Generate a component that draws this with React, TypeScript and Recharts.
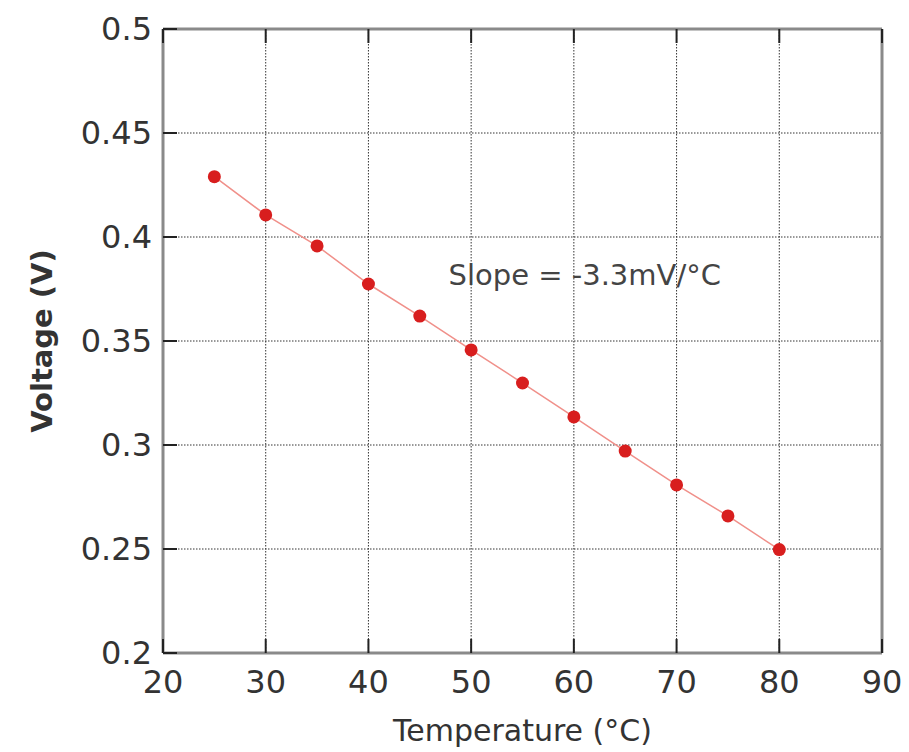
import React from "react";
import {
  LineChart,
  Line,
  XAxis,
  YAxis,
  CartesianGrid,
  ReferenceDot,
  Label
} from "recharts";

// temperature (°C) vs diode forward voltage (V)
const temperatures = [25, 30, 35, 40, 45, 50, 55, 60, 65, 70, 75, 80];
const voltages = [0.429, 0.4106, 0.3957, 0.3774, 0.362, 0.3457, 0.3298, 0.3135, 0.2971, 0.2808, 0.2659, 0.2497];

const xTicks = [20, 30, 40, 50, 60, 70, 80, 90];
const yTicks = [0.2, 0.25, 0.3, 0.35, 0.4, 0.45, 0.5];

const slopeNote = { x: 47.8, y: 0.3817, text: "Slope = -3.3mV/°C" };

const data = temperatures.map((t, i) => ({ temp: t, volt: voltages[i] }));

const FONT = "'DejaVu Sans', Verdana, sans-serif";
const frame = { stroke: "#8a8a8a", strokeWidth: 3 };
const TICK_LEN = 14;
const TICK_COLOR = "#222";

// ticks point into the plot, labels stay outside
const LeftTick = (props: any) => {
  const { x, y, payload } = props;
  const axisX = x + 11;
  return (
    <g>
      <path d={`M${axisX},${y}h${TICK_LEN}`} stroke={TICK_COLOR} strokeWidth={2} fill="none" />
      <text x={x} y={y} dy={11} textAnchor="end" fill="#333" fontSize={32} fontFamily={FONT}>
        {String(payload.value)}
      </text>
    </g>
  );
};

const BottomTick = (props: any) => {
  const { x, y, payload } = props;
  const axisY = y - 12;
  return (
    <g>
      <path d={`M${x},${axisY}v${-TICK_LEN}`} stroke={TICK_COLOR} strokeWidth={2} fill="none" />
      <text x={x} y={y} dy={28} textAnchor="middle" fill="#333" fontSize={32} fontFamily={FONT}>
        {String(payload.value)}
      </text>
    </g>
  );
};

const TopTick = (props: any) => {
  const { x, y } = props;
  return <path d={`M${x},${y}v${TICK_LEN}`} stroke={TICK_COLOR} strokeWidth={2} fill="none" />;
};

const RightTick = (props: any) => {
  const { x, y } = props;
  return <path d={`M${x},${y}h${-TICK_LEN}`} stroke={TICK_COLOR} strokeWidth={2} fill="none" />;
};

const YLabel = (props: any) => {
  const { viewBox } = props;
  const cy = viewBox.y + viewBox.height / 2;
  const x = 52;
  return (
    <text
      x={x}
      y={cy}
      transform={`rotate(-90, ${x}, ${cy})`}
      textAnchor="middle"
      fontFamily={FONT}
      fontWeight="bold"
      fontSize={29}
      fill="#333"
    >
      Voltage (V)
    </text>
  );
};

export default function App() {
  return (
    <div style={{ position: "absolute", left: 0, top: 0 }}>
      <LineChart
        width={909}
        height={752}
        data={data}
        margin={{ top: 28, right: 26, bottom: 39, left: 63 }}
      >
        <CartesianGrid
          xAxisId="bottom"
          yAxisId="left"
          stroke="#333"
          strokeDasharray="1.5 1.5"
        />
        <XAxis
          xAxisId="bottom"
          dataKey="temp"
          type="number"
          domain={[20, 90]}
          ticks={xTicks}
          height={60}
          axisLine={frame}
          tickLine={false}
          tickSize={0}
          tickMargin={12}
          tick={<BottomTick />}
        >
          <Label
            value="Temperature (°C)"
            position="insideBottom"
            offset={-28}
            style={{ fill: "#333", fontSize: 30, fontFamily: FONT }}
          />
        </XAxis>
        <XAxis
          xAxisId="top"
          dataKey="temp"
          type="number"
          orientation="top"
          domain={[20, 90]}
          ticks={xTicks}
          height={1}
          axisLine={frame}
          tickLine={false}
          tickSize={0}
          tickMargin={0}
          tick={<TopTick />}
        />
        <YAxis
          yAxisId="left"
          type="number"
          domain={[0.2, 0.5]}
          ticks={yTicks}
          width={100}
          axisLine={frame}
          tickLine={false}
          tickSize={0}
          tickMargin={11}
          tick={<LeftTick />}
        >
          <Label content={<YLabel />} />
        </YAxis>
        <YAxis
          yAxisId="right"
          orientation="right"
          type="number"
          domain={[0.2, 0.5]}
          ticks={yTicks}
          width={1}
          axisLine={frame}
          tickLine={false}
          tickSize={0}
          tickMargin={0}
          tick={<RightTick />}
        />
        <Line
          xAxisId="bottom"
          yAxisId="left"
          dataKey="volt"
          type="linear"
          stroke="#f0908a"
          strokeWidth={1.5}
          dot={{ r: 6.5, fill: "#d81e1e", stroke: "#d81e1e", strokeWidth: 0 }}
          activeDot={false}
          isAnimationActive={false}
        />
        <ReferenceDot
          xAxisId="bottom"
          yAxisId="left"
          x={slopeNote.x}
          y={slopeNote.y}
          r={0}
          fill="none"
          stroke="none"
          label={{
            value: slopeNote.text,
            position: "right",
            offset: 0,
            style: { fill: "#444", fontSize: 29, fontFamily: FONT }
          }}
        />
      </LineChart>
    </div>
  );
}
